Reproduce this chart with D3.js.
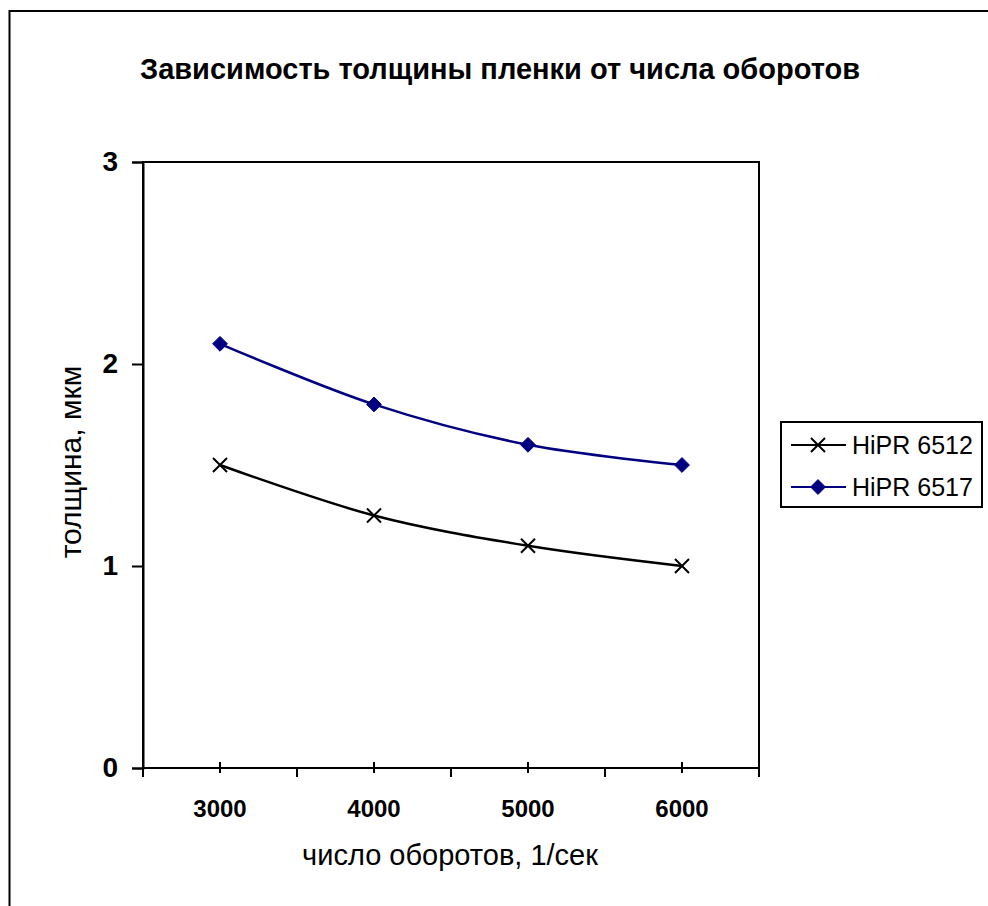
<!DOCTYPE html>
<html>
<head>
<meta charset="utf-8">
<script src="https://cdn.jsdelivr.net/npm/d3@7"></script>
<style>
  body { margin: 0; background: #fff; }
  svg { display: block; font-family: "Liberation Sans", Arial, sans-serif; }
</style>
</head>
<body>
<svg id="chart"></svg>
<script>
const categories = ["3000", "4000", "5000", "6000"];
const seriesNames = ["HiPR 6512", "HiPR 6517"];
const hipr6512 = [1.5, 1.25, 1.1, 1.0];
const hipr6517 = [2.1, 1.8, 1.6, 1.5];
const yTicks = [0, 1, 2, 3];

const width = 988, height = 906;
const margin = {top: 162, right: 229, bottom: 138, left: 143};
const colors = {"HiPR 6512": "#000000", "HiPR 6517": "#000080"};

const svg = d3.select("#chart").attr("width", width).attr("height", height);

// outer chart border (runs off the right and bottom edges)
svg.append("rect")
  .attr("x", 9.5).attr("y", 11)
  .attr("width", 1000).attr("height", 1000)
  .attr("fill", "none").attr("stroke", "#000").attr("stroke-width", 2);

const plotW = width - margin.left - margin.right;
const plotH = height - margin.top - margin.bottom;

const x = d3.scaleBand().domain(categories).range([0, plotW]);
const y = d3.scaleLinear().domain([0, 3]).range([plotH, 0]);

const g = svg.append("g").attr("transform", `translate(${margin.left},${margin.top})`);

// plot area frame
g.append("rect")
  .attr("width", plotW).attr("height", plotH)
  .attr("fill", "none").attr("stroke", "#000").attr("stroke-width", 2);

// y axis
const yAxis = g.append("g")
  .call(d3.axisLeft(y).tickValues(yTicks).tickSize(11).tickPadding(14).tickFormat(d3.format("d")));
yAxis.select(".domain").attr("stroke-width", 2);
yAxis.selectAll(".tick line").attr("stroke-width", 2);
yAxis.selectAll("text").attr("font-size", 28).attr("font-weight", "bold")
  .attr("font-family", "Liberation Sans, Arial, sans-serif");

// x axis: ticks between categories outside, ticks at centres crossing
const xAxis = g.append("g").attr("transform", `translate(0,${plotH})`);
xAxis.append("line").attr("x1", 0).attr("x2", plotW).attr("stroke", "#000").attr("stroke-width", 2);
const edges = categories.map(c => x(c)).concat([plotW]);
xAxis.selectAll(".edge").data(edges).enter().append("line")
  .attr("x1", d => d).attr("x2", d => d).attr("y1", 0).attr("y2", 9)
  .attr("stroke", "#000").attr("stroke-width", 2);
xAxis.selectAll(".mid").data(categories).enter().append("line")
  .attr("x1", d => x(d) + x.bandwidth() / 2).attr("x2", d => x(d) + x.bandwidth() / 2)
  .attr("y1", -6).attr("y2", 5)
  .attr("stroke", "#000").attr("stroke-width", 2);
xAxis.selectAll(".lbl").data(categories).enter().append("text")
  .attr("x", d => x(d) + x.bandwidth() / 2).attr("y", 49)
  .attr("text-anchor", "middle").attr("font-size", 24).attr("font-weight", "bold")
  .text(d => d);

const cx = d => x(d) + x.bandwidth() / 2;
const line = d3.line().x(d => cx(d.cat)).y(d => y(d.v)).curve(d3.curveCatmullRom.alpha(0.5));

const series = [
  {name: seriesNames[0], values: hipr6512.map((v, i) => ({cat: categories[i], v}))},
  {name: seriesNames[1], values: hipr6517.map((v, i) => ({cat: categories[i], v}))}
];

const cross = d3.symbol().type(d3.symbolX).size(130);
const diamond = d3.symbol().type(d3.symbolDiamond2).size(140);

function drawMarker(sel, name) {
  if (name === "HiPR 6512") {
    sel.append("path").attr("d", cross).attr("fill", "none")
      .attr("stroke", colors[name]).attr("stroke-width", 2);
  } else {
    sel.append("path").attr("d", diamond).attr("fill", colors[name])
      .attr("stroke", colors[name]).attr("stroke-width", 1);
  }
}

series.forEach(s => {
  g.append("path").datum(s.values)
    .attr("d", line).attr("fill", "none")
    .attr("stroke", colors[s.name]).attr("stroke-width", 2.5);
  g.selectAll(null).data(s.values).enter().append("g")
    .attr("transform", d => `translate(${cx(d.cat)},${y(d.v)})`)
    .each(function() { drawMarker(d3.select(this), s.name); });
});

// title
svg.append("text")
  .attr("x", 500).attr("y", 79)
  .attr("text-anchor", "middle").attr("font-size", 29).attr("font-weight", "bold")
  .text("Зависимость толщины пленки от числа оборотов");

// axis titles
svg.append("text")
  .attr("x", 450).attr("y", 865)
  .attr("text-anchor", "middle").attr("font-size", 29)
  .text("число оборотов, 1/сек");
svg.append("text")
  .attr("transform", `translate(81,${margin.top + plotH / 2 - 3}) rotate(-90)`)
  .attr("text-anchor", "middle").attr("font-size", 30)
  .text("толщина, мкм");

// legend
const legend = svg.append("g").attr("transform", "translate(781,422)");
legend.append("rect").attr("width", 201).attr("height", 85)
  .attr("fill", "#fff").attr("stroke", "#000").attr("stroke-width", 2);
seriesNames.forEach((name, i) => {
  const row = legend.append("g").attr("transform", `translate(0,${23 + i * 42})`);
  row.append("line").attr("x1", 10).attr("x2", 65)
    .attr("stroke", colors[name]).attr("stroke-width", 2);
  drawMarker(row.append("g").attr("transform", "translate(37,0)"), name);
  row.append("text").attr("x", 71).attr("y", 9).attr("font-size", 25).text(name);
});
</script>
</body>
</html>
